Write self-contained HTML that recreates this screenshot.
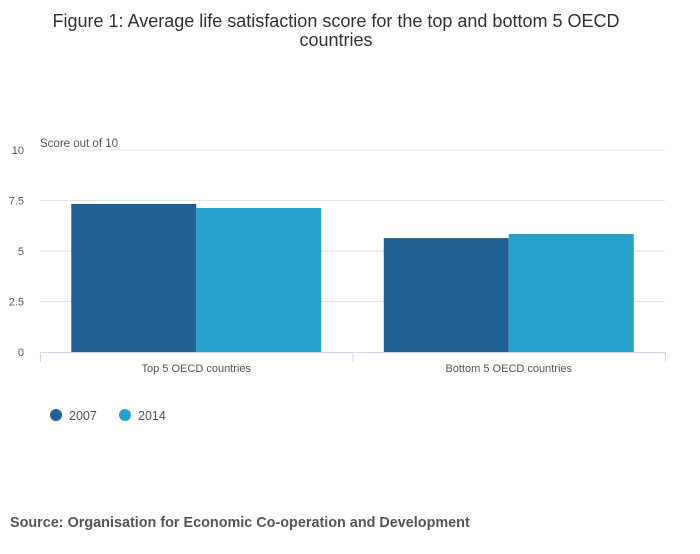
<!DOCTYPE html>
<html><head><meta charset="utf-8"><style>
body{margin:0;background:#fff;font-family:"Liberation Sans",sans-serif;}
svg text{font-family:"Liberation Sans",sans-serif;}
</style></head><body>
<svg width="700" height="549">
<text x="336" y="27" text-anchor="middle" font-size="18" fill="#323132">Figure 1: Average life satisfaction score for the top and bottom 5 OECD</text>
<text x="336" y="46" text-anchor="middle" font-size="18" fill="#323132">countries</text>
<text x="40" y="147" font-size="11.5" fill="#555">Score out of 10</text>
<g id="grid"></g><g id="bars"></g><g id="xaxis"></g>
<g>
<circle cx="56" cy="415" r="6" fill="#206095"/>
<text x="69" y="420" font-size="12.5" fill="#555">2007</text>
<circle cx="125" cy="415" r="6" fill="#27a0cc"/>
<text x="138" y="420" font-size="12.5" fill="#555">2014</text>
</g>
<text x="10" y="527" font-size="14.4" font-weight="bold" fill="#555">Source: Organisation for Economic Co-operation and Development</text>
</svg>
<script>
const categories=["Top 5 OECD countries","Bottom 5 OECD countries"];
const series2007=[7.33,5.64];
const series2014=[7.13,5.84];
const yTicks=[0,2.5,5,7.5,10];
const yTickLabels=["0","2.5","5","7.5","10"];
const NS="http://www.w3.org/2000/svg";
const x0=40,x1=665,yb=352,yt=150;
const y=v=>yb-(v/10)*(yb-yt);
const catW=(x1-x0)/categories.length;
function mk(t,a,p){const e=document.createElementNS(NS,t);for(const k in a)e.setAttribute(k,a[k]);p.appendChild(e);return e;}
const g=document.getElementById('grid');
yTicks.forEach((v,i)=>{
 if(v>0){const l=mk('line',{x1:x0,x2:x1,y1:y(v),y2:y(v),stroke:'#e3e3e3'},g);
 
 }
 const t=mk('text',{x:24,y:y(v)+4,'text-anchor':'end','font-size':11,fill:'#555'},g);t.textContent=yTickLabels[i];
 
 
});
const b=document.getElementById('bars');
const bw=125;
categories.forEach((c,i)=>{
 const cx=x0+catW*(i+0.5);
 const r1=mk('rect',{x:cx-bw,y:y(series2007[i]),width:bw,height:yb-y(series2007[i]),fill:'#206095'},b);
 
 
 const r2=mk('rect',{x:cx,y:y(series2014[i]),width:bw,height:yb-y(series2014[i]),fill:'#27a0cc'},b);
 
 
 const t=mk('text',{x:cx,y:372,'text-anchor':'middle','font-size':11,fill:'#555'},document.getElementById('xaxis'));t.textContent=c;
 
 
});
const xa=document.getElementById('xaxis');
const al=mk('line',{x1:x0,x2:x1,y1:yb+0.5,y2:yb+0.5,stroke:'#ccd6eb'},xa);


for(let i=0;i<=categories.length;i++){const tx=x0+catW*i+0.5;
 const tk=mk('line',{x1:tx,x2:tx,y1:yb,y2:yb+10,stroke:'#ccd6eb'},xa);
 
 }
</script>
</body></html>
